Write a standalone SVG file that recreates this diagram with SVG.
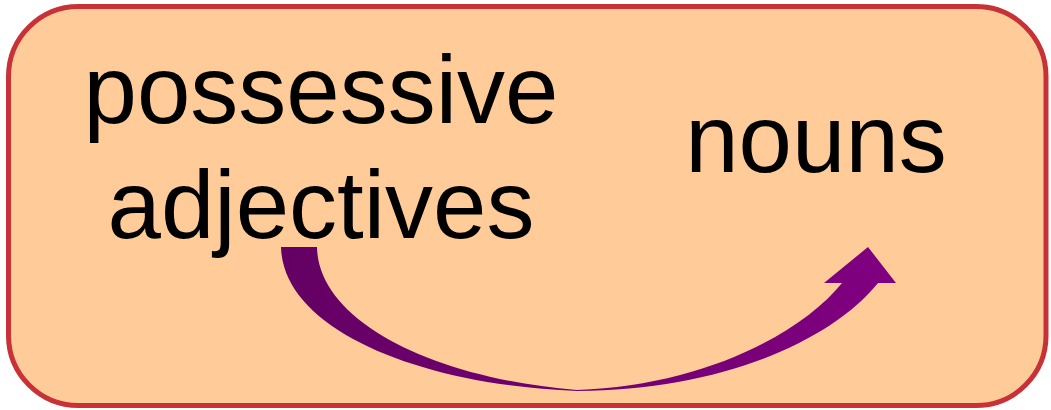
<svg xmlns="http://www.w3.org/2000/svg" width="1051" height="410" viewBox="0 0 1051 410">
<defs>
<style>
.lbl{font-family:"Liberation Sans",Arial,sans-serif;font-size:96px;fill:#000;text-anchor:middle}
</style>
<linearGradient id="g" x1="281" y1="0" x2="896" y2="0" gradientUnits="userSpaceOnUse">
<stop offset="0" stop-color="#640064"/>
<stop offset="1" stop-color="#800080"/>
</linearGradient>
</defs>
<g id="box">
<rect x="8.5" y="6.5" width="1037.5" height="399" rx="70" ry="70" fill="#FFCC99" stroke="#C83236" stroke-width="5"/>
</g>
<g id="possessive-adjectives">
<text class="lbl" x="321" y="123">possessive</text>
<text class="lbl" x="321" y="238">adjectives</text>
</g>
<g id="nouns">
<text class="lbl" x="816" y="172">nouns</text>
</g>
<g id="connectors">
<path d="M281,247 L317,247 C318,320 430,378 577,390 C700,386 800,335 842,283 L824,283 L868,247 L896,283 L878,283 C830,342 720,390 577,391 C420,385 283,330 281,247 Z" fill="url(#g)"/>
</g>
</svg>
